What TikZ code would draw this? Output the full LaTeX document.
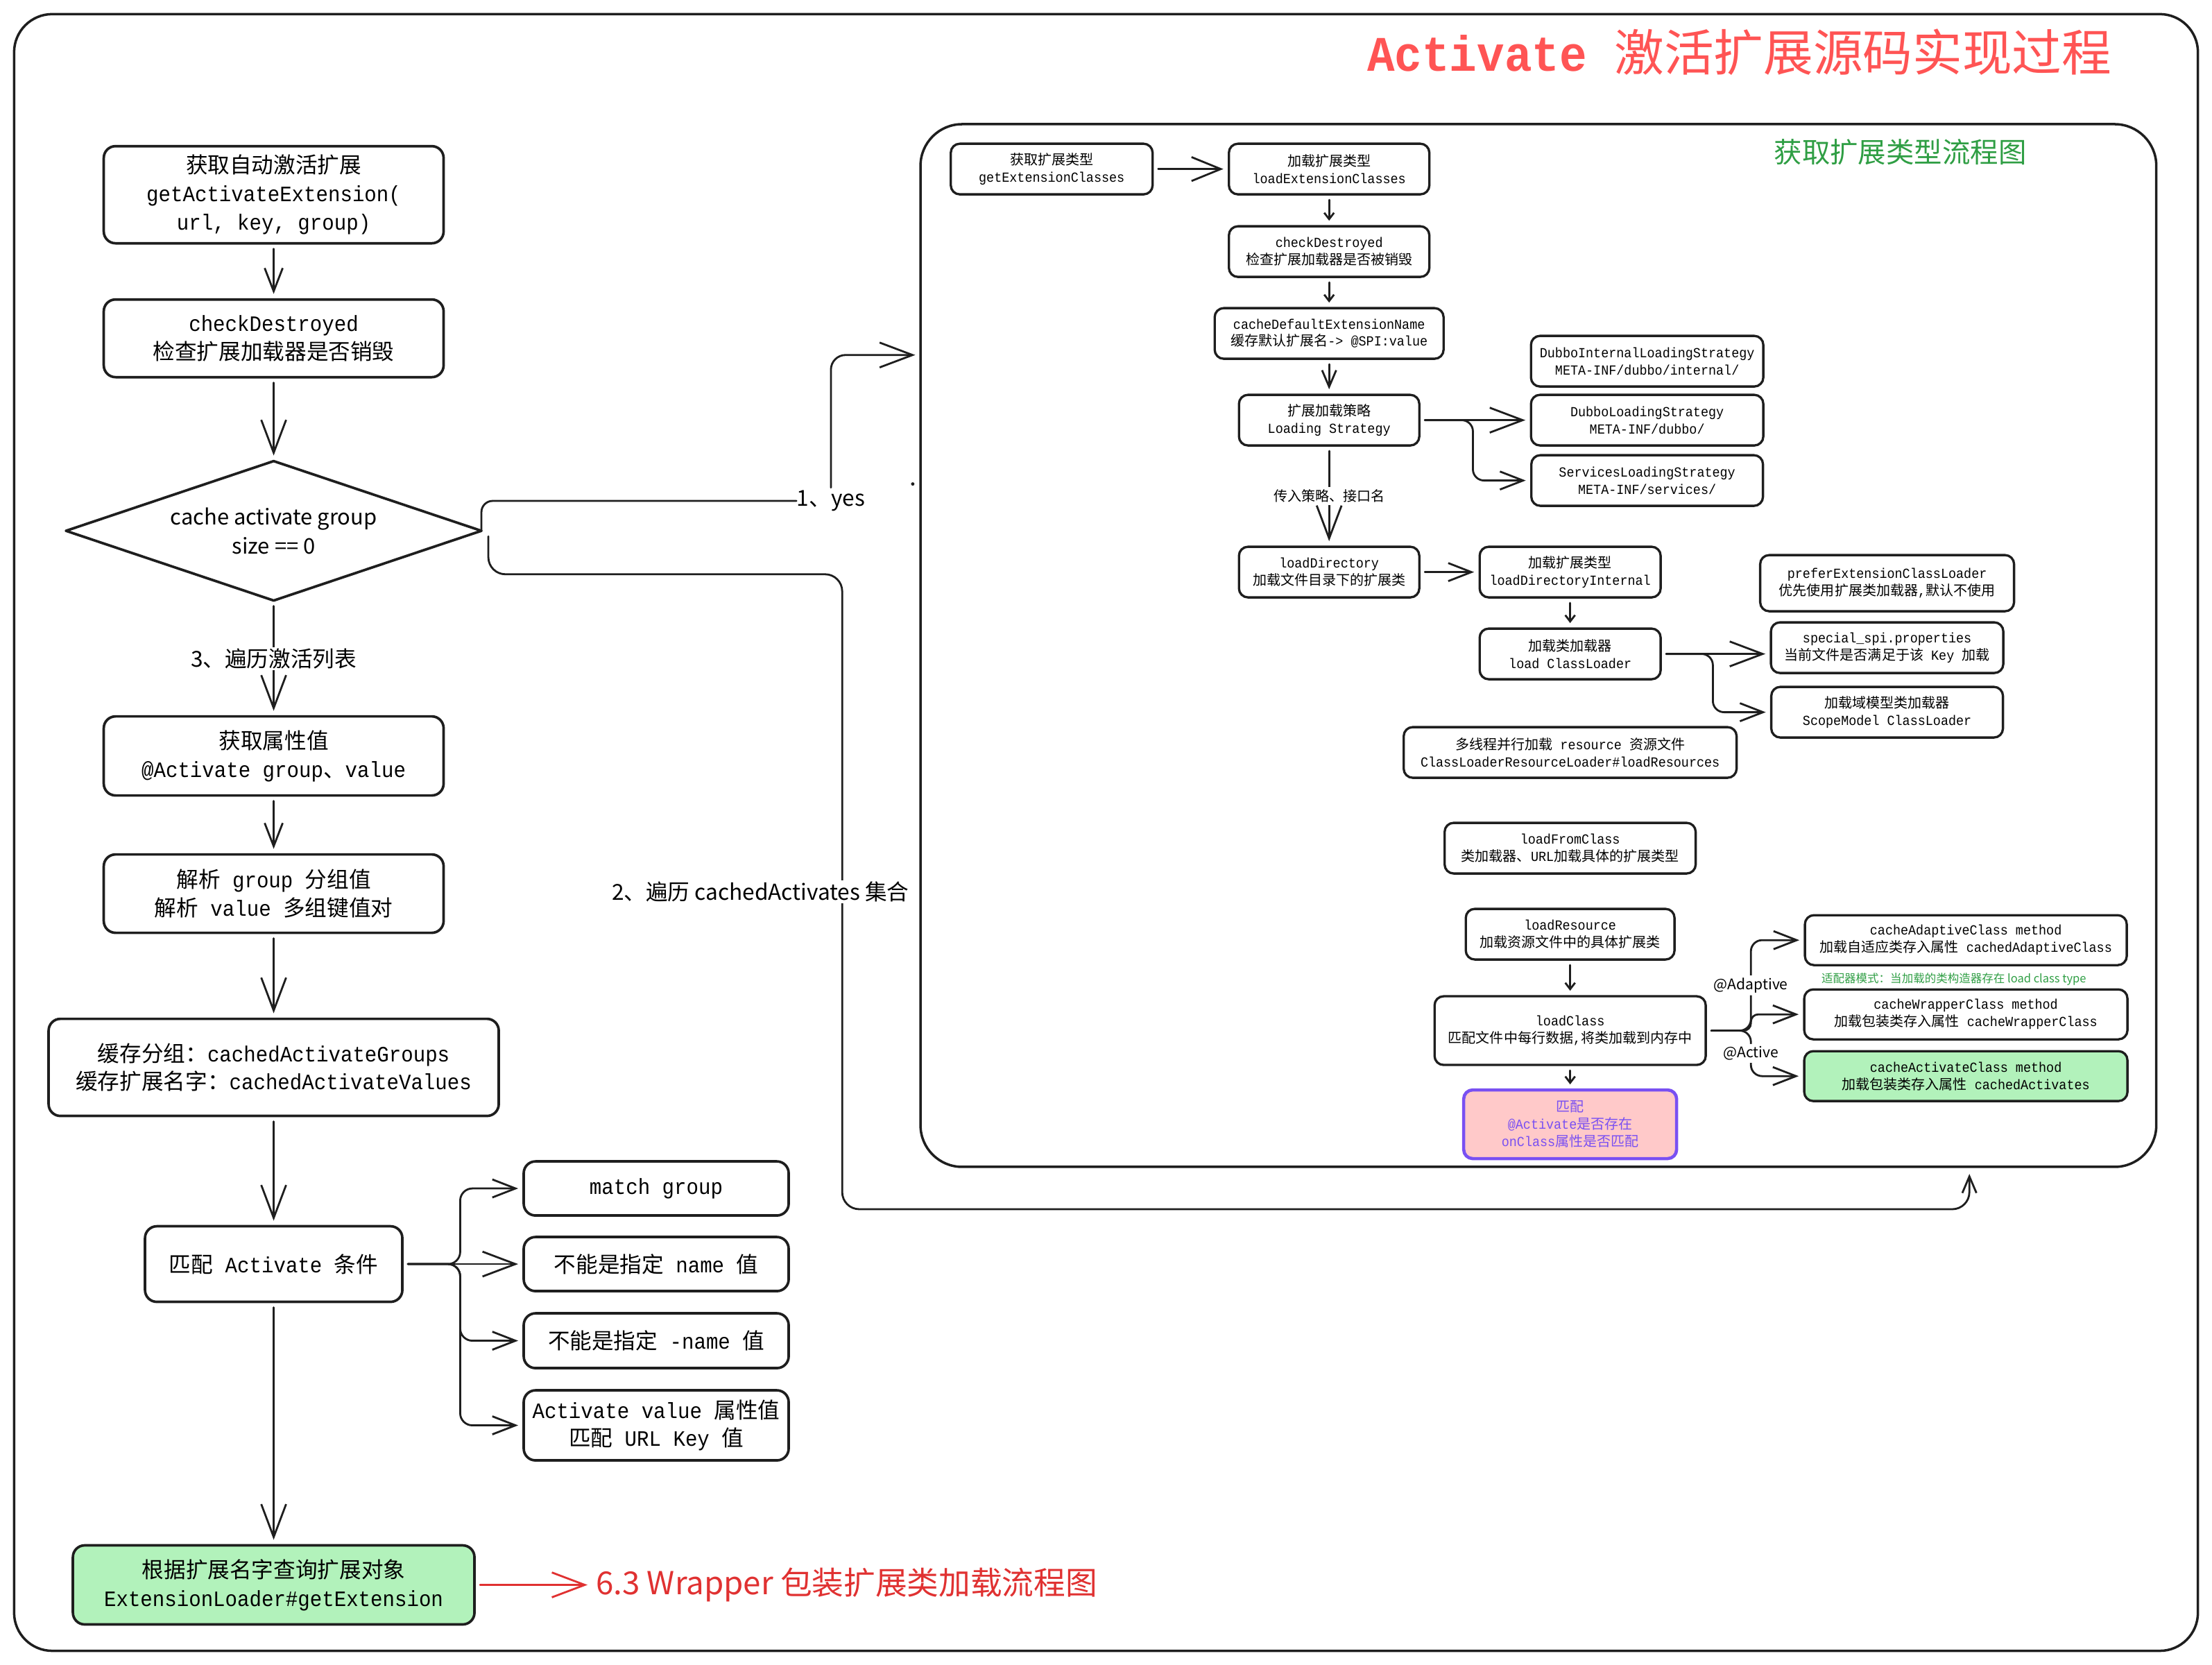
\documentclass[tikz,border=0pt]{standalone}
\usepackage{fontspec}
\setmainfont{Noto Sans CJK SC}
\newfontfamily\cjkfont{Noto Sans CJK SC}
\newfontfamily\codefont[FakeStretch=0.92]{Liberation Mono}
\usetikzlibrary{shapes.geometric,arrows.meta,positioning}

\XeTeXinterchartokenstate=1
\ifdefined\newXeTeXintercharclass
  \newXeTeXintercharclass\cjkclass
\else
  \chardef\cjkclass=77
\fi
\makeatletter
\def\setclassrange#1#2#3{\count@=#1\relax
  \loop\XeTeXcharclass\count@=#3\relax
  \advance\count@\@ne\ifnum\count@<#2\relax\repeat}
\makeatother
\setclassrange{"21}{"7F}{0}
\setclassrange{"3000}{"3040}{\cjkclass}
\setclassrange{"4E00}{"A000}{\cjkclass}
\setclassrange{"FF00}{"FFF0}{\cjkclass}
\def\latinfam{\cjkfont}
\XeTeXinterchartoks 0 \cjkclass = {\cjkfont\mdseries}
\XeTeXinterchartoks 4095 \cjkclass = {\cjkfont\mdseries}
\XeTeXinterchartoks \cjkclass 0 = {\latinfam}
\XeTeXinterchartoks \cjkclass 4095 = {\latinfam}

\newcommand\codestyle{\def\latinfam{\codefont}\codefont}
\newcommand\heavycode{\def\latinfam{\codefont\bfseries}\codefont\bfseries}
\newcommand\sansstyle{\def\latinfam{\cjkfont}\cjkfont}
\newcommand\bigtext{\fontsize{9}{11.6}\selectfont\codestyle}
\newcommand\smalltext{\fontsize{5.7}{7.1}\selectfont\codestyle}

\definecolor{ink}{HTML}{1E1E1E}
\definecolor{mint}{HTML}{B2F2BB}
\definecolor{pinkfill}{HTML}{FFC9C9}
\definecolor{violetline}{HTML}{7950F2}
\definecolor{titlered}{HTML}{FF5454}
\definecolor{wrapred}{HTML}{E03131}
\definecolor{notegreen}{HTML}{2F9E44}

\tikzset{
  boxbase/.style={draw=ink, align=center, inner sep=1pt, outer sep=0pt, line width=1.05pt},
  bigbox/.style={boxbase, rounded corners=0.17cm, font=\bigtext, minimum width=4.9cm, minimum height=1.13cm},
  smallbox/.style={boxbase, rounded corners=0.13cm, line width=0.95pt, font=\smalltext, minimum height=0.73cm},
  decision/.style={diamond, draw=ink, line width=1.05pt, aspect=3, inner sep=0pt, outer sep=0pt, minimum width=5.99cm, minimum height=2.01cm, align=center, font=\fontsize{8.8}{11.9}\selectfont\sansstyle},
  flow/.style={draw=ink, line width=0.8pt, shorten >=0.08cm, shorten <=0.08cm},
  bighead/.style={-{Straight Barb[length=13.5pt,width=10.2pt]}},
  midhead/.style={-{Straight Barb[length=9.5pt,width=7.4pt]}},
  smallhead/.style={-{Straight Barb[length=6.8pt,width=5.8pt]}},
  tinyhead/.style={-{Straight Barb[length=2.6pt,width=4pt]}},
  tag/.style={fill=white, inner sep=1pt, font=\fontsize{6}{7}\selectfont\sansstyle},
  bigtag/.style={fill=white, inner sep=0.5pt, font=\fontsize{9}{11}\selectfont\sansstyle},
}

\begin{document}
\begin{tikzpicture}[x=0.02034cm, y=-0.02034cm, line join=round, line cap=round]
\useasboundingbox (0,0) rectangle (1568,1180);
\draw[ink, line width=1pt, rounded corners=0.55cm] (10,10) rectangle (1558,1170);
\draw[ink, line width=1pt, rounded corners=0.6cm] (652.5,88) rectangle (1528.5,827);
\fill[ink] (647,343) circle (0.7pt);

\node[text=titlered, font=\fontsize{20.4}{24}\selectfont\heavycode] (title) at (1233,37) {Activate 激活扩展源码实现过程};
\node[text=notegreen, font=\fontsize{11.5}{14}\selectfont\sansstyle] (flowtitle) at (1347,107.6) {获取扩展类型流程图};

\node[bigbox, minimum height=1.40cm] (getact) at (194,138) {获取自动激活扩展\\getActivateExtension(\\url, key, group)};
\node[bigbox, minimum height=1.12cm, below=0.81cm of getact] (chkleft) {checkDestroyed\\检查扩展加载器是否销毁};
\node[decision, below=1.21cm of chkleft] (grpsize) {cache activate group\\size == 0};
\node[bigbox, minimum height=1.14cm, below=1.67cm of grpsize] (attrval) {获取属性值\\@Activate group、value};
\node[bigbox, below=0.85cm of attrval] (parsegrp) {解析 group 分组值\\解析 value 多组键值对};
\node[bigbox, minimum width=6.49cm, minimum height=1.40cm, below=1.24cm of parsegrp] (cachegrp) {缓存分组：cachedActivateGroups\\缓存扩展名字：cachedActivateValues};
\node[bigbox, minimum width=3.71cm, minimum height=1.09cm, below=1.59cm of cachegrp] (matchcond) {匹配 Activate 条件};
\node[bigbox, fill=mint, minimum width=5.79cm, minimum height=1.14cm, below=3.51cm of matchcond] (getext) {根据扩展名字查询扩展对象\\ExtensionLoader\#getExtension};

\node[bigbox, minimum width=3.82cm, minimum height=0.78cm, right=1.75cm of matchcond] (notname) {不能是指定 name 值};
\node[bigbox, minimum width=3.82cm, minimum height=0.78cm, above=0.31cm of notname] (matchgrp) {match group};
\node[bigbox, minimum width=3.82cm, minimum height=0.79cm, below=0.32cm of notname] (notneg) {不能是指定 -name 值};
\node[bigbox, minimum width=3.82cm, minimum height=1.01cm, below=0.32cm of notneg] (urlkey) {Activate value 属性值\\匹配 URL Key 值};
\node[text=wrapred, inner sep=1pt, font=\fontsize{13}{15}\selectfont\sansstyle, right=1.71cm of getext] (wrapper) {6.3 Wrapper 包装扩展类加载流程图};

\node[smallbox, minimum width=2.91cm] (getcls) at (745.5,119.8) {获取扩展类型\\getExtensionClasses};
\node[smallbox, minimum width=2.89cm, right=1.10cm of getcls] (loadcls) {加载扩展类型\\loadExtensionClasses};
\node[smallbox, minimum width=2.89cm, below=0.46cm of loadcls] (chkright) {checkDestroyed\\检查扩展加载器是否被销毁};
\node[smallbox, minimum width=3.30cm, below=0.45cm of chkright] (defname) {cacheDefaultExtensionName\\缓存默认扩展名-> @SPI:value};
\node[smallbox, minimum width=2.60cm, below=0.52cm of defname] (strategy) {扩展加载策略\\Loading Strategy};
\node[smallbox, minimum width=3.35cm, right=1.61cm of strategy] (dubbo) {DubboLoadingStrategy\\META-INF/dubbo/};
\node[smallbox, minimum width=3.35cm, above=0.12cm of dubbo] (dubbointernal) {DubboInternalLoadingStrategy\\META-INF/dubbo/internal/};
\node[smallbox, minimum width=3.34cm, below=0.14cm of dubbo] (services) {ServicesLoadingStrategy\\META-INF/services/};
\node[smallbox, minimum width=2.60cm, below=1.46cm of strategy] (loaddir) {loadDirectory\\加载文件目录下的扩展类};
\node[smallbox, minimum width=2.61cm, right=0.87cm of loaddir] (loaddirint) {加载扩展类型\\loadDirectoryInternal};
\node[smallbox, minimum width=2.61cm, below=0.45cm of loaddirint] (loadcl) {加载类加载器\\load ClassLoader};
\node[smallbox, minimum width=3.35cm, right=1.59cm of loadcl, yshift=0.09cm] (specialspi) {special\_spi.properties\\当前文件是否满足于该 Key 加载};
\node[smallbox, minimum width=3.66cm, minimum height=0.81cm, above=0.16cm of specialspi] (prefer) {preferExtensionClassLoader\\优先使用扩展类加载器,默认不使用};
\node[smallbox, minimum width=3.34cm, below=0.2cm of specialspi] (scopemodel) {加载域模型类加载器\\ScopeModel ClassLoader};
\node[smallbox, minimum width=4.80cm, below=0.69cm of loadcl] (parallel) {多线程并行加载 resource 资源文件\\ClassLoaderResourceLoader\#loadResources};
\node[smallbox, minimum width=3.62cm, below=0.65cm of parallel] (fromclass) {loadFromClass\\类加载器、URL加载具体的扩展类型};
\node[smallbox, minimum width=3.01cm, below=0.51cm of fromclass] (loadres) {loadResource\\加载资源文件中的具体扩展类};
\node[smallbox, minimum width=3.91cm, minimum height=0.99cm, below=0.53cm of loadres] (loadclass) {loadClass\\匹配文件中每行数据,将类加载到内存中};
\node[smallbox, draw=violetline, fill=pinkfill, text=violetline, line width=1.3pt, minimum width=3.07cm, minimum height=0.99cm, below=0.36cm of loadclass] (onclass) {匹配\\@Activate是否存在\\onClass属性是否匹配};
\node[smallbox, minimum width=4.66cm, minimum height=0.72cm, right=1.42cm of loadclass, yshift=0.234cm] (wrapcls) {cacheWrapperClass method\\加载包装类存入属性 cacheWrapperClass};
\node[smallbox, minimum width=4.64cm, minimum height=0.72cm, above=0.35cm of wrapcls] (adaptcls) {cacheAdaptiveClass method\\加载自适应类存入属性 cachedAdaptiveClass};
\node[smallbox, fill=mint, minimum width=4.66cm, minimum height=0.72cm, below=0.17cm of wrapcls] (activatecls) {cacheActivateClass method\\加载包装类存入属性 cachedActivates};
\node[text=notegreen, inner sep=0pt, font=\fontsize{4.7}{5.5}\selectfont\sansstyle] (adaptnote) at (1385,694) {适配器模式：当加载的类构造器存在 load class type};

\draw[flow, midhead] (getact) -- (chkleft);
\draw[flow, bighead] (chkleft) -- (grpsize);
\draw[flow, bighead] (grpsize) -- node[bigtag] {3、遍历激活列表} (attrval);
\draw[flow, midhead] (attrval) -- (parsegrp);
\draw[flow, bighead] (parsegrp) -- (cachegrp);
\draw[flow, bighead] (cachegrp) -- (matchcond);
\draw[flow, bighead] (matchcond) -- (getext);
\draw[flow, midhead, rounded corners=5pt] (matchcond.east) -- ++(41,0) |- (matchgrp.west);
\draw[flow, bighead] (matchcond.east) -- (matchcond.east -| notname.west);
\draw[flow, midhead, rounded corners=5pt] (matchcond.east) -- ++(41,0) |- (notneg.west);
\draw[flow, midhead, rounded corners=5pt] (matchcond.east) -- ++(41,0) |- (urlkey.west);
\draw[flow, draw=wrapred, bighead] (getext) -- (wrapper);

\node[bigtag, inner sep=0pt] (yeslbl) at (589,355) {1、yes};
\coordinate (yesend) at (648.8,251.6);
\draw[flow, shorten >=0pt, shorten <=0pt, rounded corners=4.6pt] (grpsize.east) |- (yeslbl.west);
\draw[flow, shorten >=0pt, shorten <=1pt, bighead, rounded corners=6pt] (yeslbl.north) |- (yesend);

\coordinate (dropx) at (597,407);
\coordinate (droplow) at (597,857);
\coordinate (allend) at (1396,832);
\draw[flow, shorten >=0pt, shorten <=0pt, smallhead, rounded corners=7pt] ([xshift=0.1cm,yshift=-0.08cm]grpsize.east) |- (dropx) -- (droplow) -| (allend);
\node[bigtag] (iterlbl) at (539,632) {2、遍历 cachedActivates 集合};

\draw[flow, -{Straight Barb[length=12pt,width=9.8pt]}] (getcls) -- (loadcls);
\draw[flow, tinyhead] (loadcls) -- (chkright);
\draw[flow, tinyhead] (chkright) -- (defname);
\draw[flow, smallhead] (defname) -- (strategy);
\draw[flow, bighead] (strategy) -- node[fill=white, inner sep=1pt, font=\smalltext] {传入策略、接口名} (loaddir);
\draw[flow, bighead] (strategy) -- (dubbo);
\draw[flow, midhead, rounded corners=4.6pt] (strategy.east) -- ++(38,0) |- (services.west);
\draw[flow, midhead] (loaddir) -- (loaddirint);
\draw[flow, tinyhead] (loaddirint) -- (loadcl);
\draw[flow, bighead] (loadcl.east) -- (loadcl.east -| specialspi.west);
\draw[flow, midhead, rounded corners=4.6pt] (loadcl.east) -- ++(37,0) |- (scopemodel.west);
\draw[flow, tinyhead] (loadres) -- (loadclass);
\draw[flow, tinyhead] (loadclass) -- (onclass);
\draw[flow, midhead, rounded corners=4.6pt] (loadclass.east) -- ++(32,0) |- node[pos=0.25, tag] {@Adaptive} (adaptcls.west);
\draw[flow, midhead, rounded corners=3pt] (loadclass.east) -- ++(32,0) |- (wrapcls.west);
\draw[flow, midhead, rounded corners=4.6pt] (loadclass.east) -- ++(32,0) |- node[pos=0.25, tag] {@Active} (activatecls.west);
\end{tikzpicture}
\end{document}
